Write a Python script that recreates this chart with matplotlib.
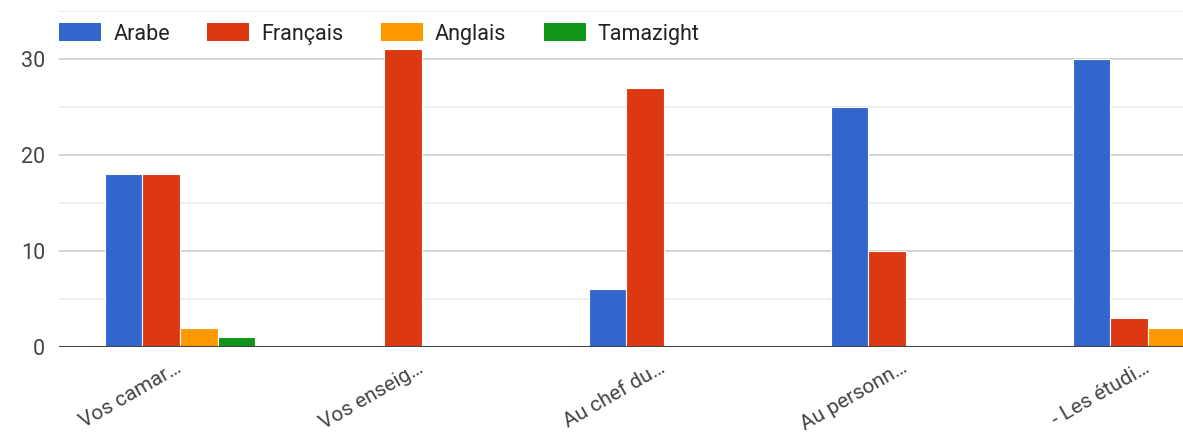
import numpy as np
import matplotlib.pyplot as plt
import matplotlib.transforms as mtransforms
from matplotlib.patches import Patch

plt.rcParams['font.family'] = ['Roboto', 'DejaVu Sans']

# Data
categories = ["Vos camar…", "Vos enseig…", "Au chef du…", "Au personn…", "- Les étudi…"]
series_names = ["Arabe", "Français", "Anglais", "Tamazight"]
arabe = [18, 0, 6, 25, 30]
francais = [18, 31, 27, 10, 3]
anglais = [2, 0, 0, 0, 2]
tamazight = [1, 0, 0, 0, 0]
colors = ["#3366cc", "#dc3912", "#ff9900", "#109618"]

series = [arabe, francais, anglais, tamazight]

W, H = 1183, 432
fig = plt.figure(figsize=(W / 100, H / 100), dpi=100)
# plot area runs past the right edge of the figure
ax = fig.add_axes([59 / W, 85 / H, 1210 / W, 336 / H])

x = np.arange(len(categories))
bw = 0.155
for i, (vals, col) in enumerate(zip(series, colors)):
    ax.bar(x + (i - 1.5) * bw, vals, width=bw, color=col,
           edgecolor="white", linewidth=0.8, zorder=3)

ax.set_xlim(-0.5, len(categories) - 0.5)
ax.set_ylim(0, 35)

# gridlines: labelled every 10, lighter ones in between
for v in [5, 15, 25, 35]:
    ax.axhline(v, color="#ebebeb", lw=1.2, zorder=1)
for v in [10, 20, 30]:
    ax.axhline(v, color="#cccccc", lw=1.2, zorder=1)
ax.axhline(0, color="#444444", lw=2.2, zorder=4)

ax.set_yticks([0, 10, 20, 30])
ax.set_xticks(x)
ax.set_xticklabels(categories, rotation=30, ha="right", rotation_mode="anchor")
ax.tick_params(axis="both", length=0, colors="#444444")
ax.tick_params(axis="y", pad=10, labelsize=15.5)
ax.tick_params(axis="x", pad=8, labelsize=15)
# nudge the slanted labels a little to the left
shift = mtransforms.ScaledTranslation(-5 / 100, 0, fig.dpi_scale_trans)
for lbl in ax.get_xticklabels():
    lbl.set_transform(lbl.get_transform() + shift)
for s in ax.spines.values():
    s.set_visible(False)

handles = [Patch(facecolor=c, edgecolor="none") for c in colors]
fig.legend(handles, series_names, loc="upper left", ncol=4,
           bbox_to_anchor=(40 / W, 1 - 4 / H), frameon=False,
           fontsize=15.5, handlelength=1.95, handleheight=0.9,
           handletextpad=0.55, columnspacing=1.75, labelcolor="#222222")

fig.savefig("out.png", dpi=100)
